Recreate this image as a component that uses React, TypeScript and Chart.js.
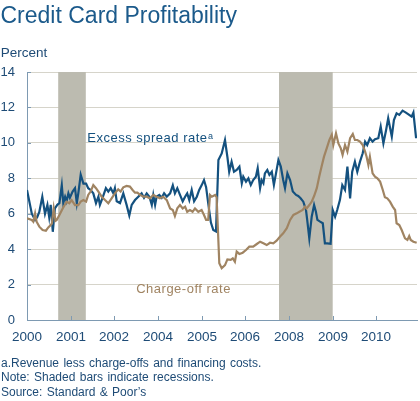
import React, { useEffect, useRef } from 'react';
import { Chart, registerables } from 'chart.js';

Chart.register(...registerables);

// ---------- data (x in months since Jan 2000) ----------
const xTickMonths = [0, 14.67, 29, 43.67, 58.33, 72.67, 87.33, 102, 116.33];
const xTickLabels = ['2000', '2001', '2002', '2004', '2005', '2006', '2008', '2009', '2010'];

const recessionStarts = [10.4, 84];
const recessionEnds = [19.6, 101.9];

const excessMonths = [
  0, 1.6, 2.7, 3.4, 4.1, 5.1, 6, 6.8, 7.4, 7.9,
  8.6, 9.3, 10.1, 10.8, 11.6, 12.1, 12.7, 13.2, 13.8, 14.3,
  15.2, 16, 16.6, 17.1, 17.9, 18.8, 19.7, 20.4, 21.2, 22.1,
  23, 23.8, 24.3, 24.9, 25.7, 26.3, 27.1, 27.9, 28.8, 29.3,
  29.9, 31, 32.1, 33.2, 34.1, 34.9, 36, 37.1, 38.2, 39,
  39.9, 40.8, 41.6, 42.1, 42.7, 43.2, 44.1, 44.9, 45.7, 46.6,
  47.7, 48.6, 49.3, 50.1, 51, 51.9, 52.7, 53.4, 54.1, 54.9,
  55.7, 56.6, 57.4, 58.2, 59, 59.7, 60.4, 61.3, 62.1, 63,
  63.8, 64.9, 66, 66.8, 67.4, 68.2, 69, 69.9, 70.8, 71.6,
  72.1, 73, 73.8, 74.6, 75.4, 76.3, 76.9, 77.7, 78.2, 78.8,
  79.3, 80.1, 80.8, 81.6, 82.3, 83, 83.8, 84.6, 85.4, 86,
  86.8, 87.7, 88.6, 89.7, 90.4, 91.2, 92.1, 93, 93.4, 94.1,
  94.9, 95.7, 96.3, 96.8, 97.7, 98.6, 99.3, 100.1, 101.2, 101.9,
  102.7, 103.4, 104.3, 105.1, 106, 106.8, 107.7, 108.4, 109.3, 110.1,
  111, 111.9, 112.7, 113.4, 114.3, 115.2, 116, 117.1, 117.9, 118.8,
  119.7, 120.4, 121.6, 122.3, 123.2, 124.1, 125.2, 126.3, 127.4, 128.2,
  128.8, 129.7,
];
const excessRate = [
  7.34, 6.0, 5.65, 5.8, 6.1, 6.96, 6.0, 6.5, 5.8, 6.5,
  4.98, 6.3, 6.5, 6.6, 7.6, 6.6, 6.96, 6.7, 7.15, 6.9,
  7.25, 7.44, 6.6, 7.15, 8.2, 7.7, 7.7, 7.44, 7.34, 7.15,
  6.6, 6.96, 6.5, 6.77, 7.15, 7.44, 7.25, 7.44, 7.15, 7.44,
  6.7, 6.6, 7.15, 6.5, 5.9, 6.5, 6.77, 6.96, 7.15, 6.9,
  7.15, 6.96, 6.5, 7.06, 6.5, 6.96, 7.06, 6.9, 7.15, 6.96,
  7.15, 7.6, 7.15, 7.44, 7.06, 6.7, 6.96, 7.15, 6.77, 7.34,
  6.7, 6.96, 7.34, 7.6, 7.9, 7.5, 6.6, 5.5, 5.08, 5.0,
  9.03, 9.4, 10.16, 9.2, 8.37, 8.94, 8.37, 8.47, 8.66, 7.72,
  8.09, 7.81, 8.0, 7.62, 7.9, 8.09, 8.57, 7.44, 7.9, 7.72,
  8.28, 8.47, 8.19, 8.37, 7.62, 8.28, 9.03, 8.66, 7.9, 7.44,
  8.28, 7.9, 7.25, 7.06, 7.0, 6.87, 6.68, 6.21, 5.65, 4.61,
  5.83, 6.49, 6.11, 5.65, 5.55, 5.46, 4.33, 4.33, 4.3, 6.21,
  5.83, 6.21, 6.77, 7.62, 7.34, 8.66, 6.87, 8.37, 8.94, 8.37,
  8.94, 9.41, 10.07, 9.88, 10.26, 10.07, 10.2, 10.26, 10.92, 9.97,
  10.73, 11.39, 10.35, 11.29, 11.67, 11.58, 11.82, 11.71, 11.58, 11.48,
  11.71, 10.26,
];

const chargeOffMonths = [
  0, 1.6, 2.1, 2.7, 3.2, 4.1, 5.2, 6.3, 7.1, 7.9,
  8.3, 8.9, 9.5, 9.9, 10.8, 11.9, 13.2, 14.1, 14.9, 16,
  17.1, 17.9, 18.8, 19.7, 20.4, 21.2, 22.1, 23, 23.8, 24.9,
  26, 27.1, 28.2, 29.3, 30.4, 31.2, 32.1, 33.2, 34.3, 35.2,
  36, 36.8, 37.7, 38.8, 39.9, 41, 42.1, 43.2, 44.3, 45.4,
  46.6, 47.7, 48.6, 49.3, 50.1, 51, 51.9, 52.7, 53.4, 54.3,
  55.2, 56, 57.1, 58.2, 59, 59.7, 60.4, 61, 61.6, 62.7,
  63.2, 64.1, 64.9, 66, 66.8, 67.9, 68.6, 69.3, 69.9, 70.8,
  71.9, 73, 74.1, 75.4, 76.6, 77.7, 78.8, 79.9, 81, 82.1,
  83.2, 84.3, 85.4, 86.6, 87.7, 88.8, 89.9, 90.8, 91.9, 92.7,
  93.2, 94.1, 94.9, 95.7, 96.6, 97.4, 98.2, 99, 99.9, 100.8,
  101.6, 102.1, 103, 103.8, 104.6, 105.2, 106, 106.8, 107.7, 108.6,
  109.3, 110.1, 111, 111.9, 112.7, 113.2, 113.8, 114.3, 115.2, 116,
  116.8, 117.7, 118.6, 119.3, 120.1, 121, 121.9, 122.7, 123.2, 124.1,
  124.9, 126, 126.8, 127.4, 127.9, 128.8, 129.9,
];
const chargeOffRate = [
  5.74, 5.65, 5.55, 6.02, 5.55, 5.27, 5.08, 5.04, 5.23, 5.36,
  5.45, 6.3, 5.6, 5.65, 5.93, 6.3, 6.68, 6.59, 6.77, 6.49,
  6.49, 6.68, 6.77, 6.68, 7.06, 7.25, 7.62, 7.44, 7.25, 6.96,
  6.77, 6.59, 6.87, 7.15, 7.38, 7.25, 7.49, 7.57, 7.53, 7.34,
  7.19, 7.19, 7.06, 6.96, 6.96, 6.87, 7.06, 6.96, 6.87, 6.96,
  6.77, 6.3, 6.21, 5.87, 6.3, 6.49, 6.3, 6.4, 6.11, 6.21,
  6.11, 6.3, 6.11, 6.21, 5.93, 5.65, 5.65, 7.06, 6.96, 7.06,
  6.93, 3.2, 2.92, 3.1, 3.42, 3.39, 3.48, 3.29, 3.86, 3.73,
  3.8, 3.95, 4.14, 4.14, 4.29, 4.42, 4.33, 4.23, 4.36, 4.33,
  4.48, 4.7, 4.89, 5.18, 5.65, 5.93, 6.02, 6.11, 6.21, 6.4,
  6.3, 6.49, 6.68, 7.0, 7.44, 8.09, 8.66, 9.22, 9.69, 10.16,
  10.45, 9.88, 10.54, 9.97, 9.69, 9.32, 9.88, 9.5, 10.26, 10.5,
  10.16, 10.16, 10.07, 9.88, 9.5, 9.22, 8.75, 9.22, 8.28, 8.09,
  8.0, 7.81, 7.34, 6.93, 6.87, 6.68, 6.4, 6.21, 5.46, 5.36,
  5.08, 4.61, 4.52, 4.74, 4.52, 4.42, 4.36,
];

// label anchors in data units (month, percent)
const excessLabelAt = [20.1, 10.05];
const chargeLabelAt = [36.4, 1.52];

// ---------- styles ----------
const FONT = '"Liberation Sans", Arial, Helvetica, sans-serif';
const EXCESS_COLOR = '#14517f';
const CHARGE_COLOR = '#a08462';
const RECESSION_COLOR = '#bcbbb0';
const GRID_COLOR = '#d6d4ca';
const AXIS_COLOR = '#7e9ab2';
const TICK_TEXT = '#1e4b76';
const TITLE_COLOR = '#1b5a8b';

const recessionPlugin = {
  id: 'recessions',
  beforeDatasetsDraw(chart: any) {
    const { ctx, chartArea, scales } = chart;
    const xs = scales.x;
    ctx.save();
    ctx.fillStyle = RECESSION_COLOR;
    recessionStarts.forEach((s, i) => {
      const x0 = xs.getPixelForValue(s);
      const x1 = xs.getPixelForValue(recessionEnds[i]);
      ctx.fillRect(x0, chartArea.top, x1 - x0, chartArea.bottom - chartArea.top);
    });
    ctx.restore();
  },
};

const decorPlugin = {
  id: 'decor',
  afterDraw(chart: any) {
    const { ctx, chartArea, scales } = chart;
    const xs = scales.x;
    const ys = scales.y;
    ctx.save();
    // inner tick marks
    ctx.strokeStyle = AXIS_COLOR;
    ctx.lineWidth = 1;
    ctx.beginPath();
    ys.ticks.forEach((t: any) => {
      const y = Math.round(ys.getPixelForValue(t.value)) + 0.5;
      ctx.moveTo(chartArea.left, y);
      ctx.lineTo(chartArea.left + 4, y);
    });
    xTickMonths.forEach((m) => {
      const x = Math.round(xs.getPixelForValue(m)) + 0.5;
      ctx.moveTo(x, chartArea.bottom);
      ctx.lineTo(x, chartArea.bottom - 4);
    });
    ctx.stroke();

    // series labels
    ctx.textBaseline = 'alphabetic';
    ctx.textAlign = 'left';
    (ctx as any).letterSpacing = '0.5px';
    ctx.font = `13px ${FONT}`;
    ctx.fillStyle = EXCESS_COLOR;
    const ex = xs.getPixelForValue(excessLabelAt[0]);
    const ey = ys.getPixelForValue(excessLabelAt[1]);
    ctx.fillText('Excess spread rate', ex, ey);
    const w = ctx.measureText('Excess spread rate').width;
    ctx.font = `9px ${FONT}`;
    ctx.fillText('a', ex + w + 0.5, ey - 3);

    ctx.font = `13px ${FONT}`;
    ctx.fillStyle = CHARGE_COLOR;
    ctx.fillText(
      'Charge-off rate',
      xs.getPixelForValue(chargeLabelAt[0]),
      ys.getPixelForValue(chargeLabelAt[1])
    );
    ctx.restore();
  },
};

export default function App() {
  const canvasRef = useRef<HTMLCanvasElement | null>(null);

  useEffect(() => {
    if (!canvasRef.current) return;
    const excessData = excessMonths.map((m, i) => ({ x: m, y: excessRate[i] }));
    const chargeData = chargeOffMonths.map((m, i) => ({ x: m, y: chargeOffRate[i] }));
    const chart = new Chart(canvasRef.current, {
      type: 'line',
      data: {
        datasets: [
          {
            label: 'Charge-off rate',
            data: chargeData,
            borderColor: CHARGE_COLOR,
            borderWidth: 2.2,
            pointRadius: 0,
            tension: 0,
            fill: false,
          },
          {
            label: 'Excess spread rate',
            data: excessData,
            borderColor: EXCESS_COLOR,
            borderWidth: 2.2,
            pointRadius: 0,
            tension: 0,
            fill: false,
          },
        ],
      },
      options: {
        responsive: false,
        animation: false,
        layout: { padding: { left: 0, right: 3, top: 72, bottom: 41 } },
        plugins: {
          legend: { display: false },
          tooltip: { enabled: false },
          title: { display: false },
        },
        scales: {
          x: {
            type: 'linear',
            min: 0,
            max: 130,
            afterFit: (s: any) => {
              s.height = 40;
            },
            afterBuildTicks: (s: any) => {
              s.ticks = xTickMonths.map((v) => ({ value: v }));
            },
            ticks: {
              autoSkip: false,
              maxRotation: 0,
              padding: 1.5,
              color: TICK_TEXT,
              font: { family: FONT, size: 13.5 },
              callback: (_v: any, i: number) => xTickLabels[i],
            },
            grid: { display: false },
            border: { display: true, color: AXIS_COLOR, width: 1 },
          },
          y: {
            min: 0,
            max: 14,
            afterFit: (s: any) => {
              s.width = 27;
            },
            ticks: {
              stepSize: 2,
              padding: 12,
              color: TICK_TEXT,
              font: { family: FONT, size: 13 },
            },
            grid: { color: GRID_COLOR, drawTicks: false, lineWidth: 1 },
            border: { display: true, color: AXIS_COLOR, width: 1 },
          },
        },
      },
      plugins: [recessionPlugin, decorPlugin],
    });
    return () => chart.destroy();
  }, []);

  const footStyle: React.CSSProperties = {
    position: 'absolute',
    left: 1,
    fontSize: 12,
    lineHeight: '14.7px',
    color: TICK_TEXT,
    whiteSpace: 'nowrap',
    wordSpacing: '1px',
  };

  return (
    <div
      style={{
        position: 'fixed',
        left: 0,
        top: 0,
        width: 420,
        height: 401,
        background: '#ffffff',
        overflow: 'hidden',
        fontFamily: FONT,
      }}
    >
      <canvas
        ref={canvasRef}
        width={420}
        height={401}
        style={{ position: 'absolute', left: 0, top: 0, width: 420, height: 401 }}
      />
      <div
        style={{
          position: 'absolute',
          left: 0.5,
          top: 3.5,
          fontSize: 23,
          lineHeight: '23px',
          color: TITLE_COLOR,
          whiteSpace: 'nowrap',
        }}
      >
        Credit Card Profitability
      </div>
      <div
        style={{
          position: 'absolute',
          left: 0.7,
          top: 45.9,
          fontSize: 13.5,
          lineHeight: '13.5px',
          color: TICK_TEXT,
          whiteSpace: 'nowrap',
        }}
      >
        Percent
      </div>
      <div style={{ ...footStyle, top: 355.5 }}>
        a.Revenue less charge-offs and financing costs.
      </div>
      <div style={{ ...footStyle, top: 370.2 }}>Note: Shaded bars indicate recessions.</div>
      <div style={{ ...footStyle, top: 384.9 }}>Source: Standard &amp; Poor’s</div>
    </div>
  );
}
